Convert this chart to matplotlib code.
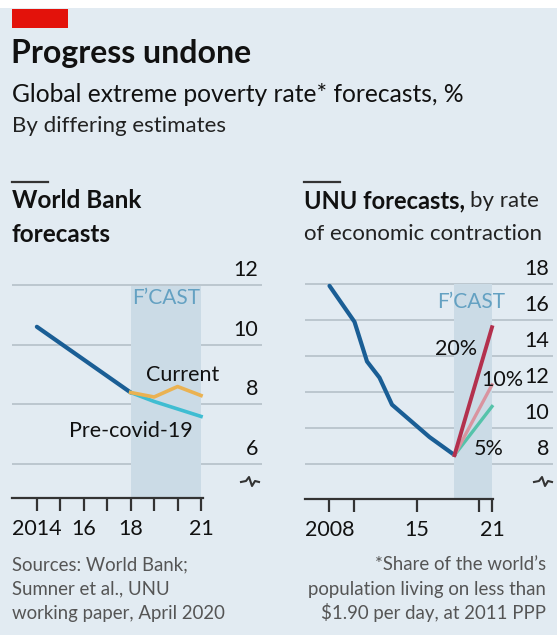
import matplotlib.pyplot as plt
from matplotlib.patches import Rectangle
from matplotlib.lines import Line2D

plt.rcParams['font.family'] = ['Lato', 'DejaVu Sans']

# World Bank panel
wb_years = [2014, 2015, 2016, 2017, 2018]
wb_hist = [10.6, 10.05, 9.5, 8.95, 8.4]
wb_fc_years = [2018, 2019, 2020, 2021]
wb_current = [8.4, 8.25, 8.6, 8.3]
wb_precovid = [8.4, 8.1, 7.85, 7.6]
wb_yticks = [6, 8, 10, 12]
wb_xticks = [2014, 2015, 2016, 2017, 2018, 2019, 2020, 2021]
wb_xlabels = ['2014', '', '16', '', '18', '', '', '21']

# UNU panel
unu_years = [2008, 2009, 2010, 2011, 2012, 2013, 2014, 2015, 2016, 2017, 2018]
unu_hist = [17.9, 16.9, 15.9, 13.7, 12.8, 11.3, 10.7, 10.1, 9.5, 9.0, 8.5]
unu_fc_years = [2018, 2021]
unu_5 = [8.5, 11.2]
unu_10 = [8.5, 12.4]
unu_20 = [8.5, 15.6]
unu_yticks = [8, 10, 12, 14, 16, 18]
unu_xticks = [2008, 2010, 2015, 2020, 2021]
unu_xlabels = ['2008', '', '15', '', '21']

sources = ['Sources: World Bank;', 'Sumner et al., UNU', 'working paper, April 2020']
footnote = ['*Share of the world\u2019s', 'population living on less than', '$1.90 per day, at 2011 PPP']

BG = '#e2ebf2'
GRID = '#b9c4cc'
SHADE = '#cbdbe6'
BLUE = '#1a5e95'

W, H = 557, 635
fig = plt.figure(figsize=(W / 100, H / 100), dpi=100)
fig.patch.set_facecolor('white')


def fx(px):
    return px / W


def fy(py):
    return 1 - py / H


# background panel below the white strip
fig.patches.append(Rectangle((0, 0), 1, fy(8), transform=fig.transFigure,
                             facecolor=BG, edgecolor='none', zorder=-10))
fig.patches.append(Rectangle((fx(12), fy(28)), fx(56), 19 / H, transform=fig.transFigure,
                             facecolor='#e3120b', edgecolor='none'))

fig.text(fx(11), fy(53), 'Progress undone', fontsize=23, fontweight='bold', va='center', color='#111111')
fig.text(fx(12), fy(94), 'Global extreme poverty rate* forecasts, %', fontsize=17.7, va='center', color='#111111')
fig.text(fx(12), fy(126), 'By differing estimates', fontsize=16, va='center', color='#222222')

# panel headers
for x0 in (12, 304):
    fig.lines.append(Line2D([fx(x0), fx(x0 + 36)], [fy(182), fy(182)], transform=fig.transFigure,
                            color='#333333', lw=1.6))
fig.text(fx(12), fy(201), 'World Bank', fontsize=17.5, fontweight='bold', va='center', color='#111111')
fig.text(fx(12), fy(234), 'forecasts', fontsize=17.5, fontweight='bold', va='center', color='#111111')
t = fig.text(fx(304), fy(201), 'UNU forecasts,', fontsize=17, fontweight='bold', va='center', color='#111111')
fig.canvas.draw()
bb = t.get_window_extent()
fig.text(bb.x1 / W + fx(5), fy(201), 'by rate', fontsize=16, va='center', color='#222222')
fig.text(fx(304), fy(234), 'of economic contraction', fontsize=16, va='center', color='#222222')

# footers
for i, (a, b) in enumerate(zip(sources, footnote)):
    yy = fy(565 + 24 * i)
    fig.text(fx(12), yy, a, fontsize=13.4, va='center', ha='left', color='#555555')
    fig.text(fx(546), yy, b, fontsize=13.4, va='center', ha='right', color='#555555')


def setup(ax, xlim, ylim, yticks, xticks, xlabels, fc_start, fc_end, top):
    ax.set_facecolor('none')
    ax.set_xlim(*xlim)
    ax.set_ylim(*ylim)
    for s in ('left', 'right', 'top'):
        ax.spines[s].set_visible(False)
    ax.spines['bottom'].set_bounds(xlim[0], fc_end + 0.08)
    ax.spines['bottom'].set_color('#333333')
    ax.spines['bottom'].set_linewidth(1.6)
    ax.set_yticks([])
    ax.set_xticks(xticks)
    ax.set_xticklabels(xlabels)
    ax.tick_params(axis='x', length=9, width=1.6, color='#333333', labelsize=15.5, pad=6,
                   labelcolor='#111111')
    for v in yticks:
        ax.axhline(v, color=GRID, lw=1.3, zorder=0)
        ax.annotate(str(v), xy=(0.984, v), xycoords=('axes fraction', 'data'),
                    xytext=(0, 5), textcoords='offset pixels', ha='right', va='bottom',
                    fontsize=15.5, color='#111111')
    ax.fill_between([fc_start, fc_end], ylim[0], top, color=SHADE, lw=0, zorder=0.5)


# left axes: px x 12..262, y 270..498
axL = fig.add_axes([fx(12), fy(498), 250 / W, 228 / H])
setup(axL, (2012.94, 2023.6), (4.87, 12.5), wb_yticks, wb_xticks, wb_xlabels, 2018, 2021, 11.98)
axL.plot(wb_years, wb_hist, color=BLUE, lw=3, solid_capstyle='round', zorder=3)
axL.plot(wb_fc_years, wb_precovid, color='#3fbdd2', lw=2.6, zorder=3)
axL.plot(wb_fc_years, wb_current, color='#eab252', lw=2.6, zorder=4)
axL.text(2019.5, 11.55, 'F\u2019CAST', fontsize=15, color='#64a1c2', ha='center', va='center')
axL.text(2020.2, 8.98, 'Current', fontsize=15.5, color='#111111', ha='center', va='center')
axL.text(2018.0, 7.1, 'Pre-covid-19', fontsize=15.5, color='#111111', ha='center', va='center')

# right axes: px x 305..553, y 270..499
axR = fig.add_axes([fx(305), fy(499), 248 / W, 229 / H])
setup(axR, (2006.04, 2025.88), (6.06, 18.78), unu_yticks, unu_xticks, unu_xlabels, 2018, 2021, 17.98)
axR.plot(unu_years, unu_hist, color=BLUE, lw=3, solid_capstyle='round', zorder=3)
axR.plot(unu_fc_years, unu_5, color='#55c3aa', lw=2.4, zorder=3)
axR.plot(unu_fc_years, unu_10, color='#d9939f', lw=2.4, zorder=3)
axR.plot(unu_fc_years, unu_20, color='#b3304d', lw=2.8, zorder=4)
axR.text(2019.3, 17.0, 'F\u2019CAST', fontsize=15, color='#64a1c2', ha='center', va='center')
axR.text(2018.1, 14.4, '20%', fontsize=15.5, color='#111111', ha='center', va='center')
axR.text(2021.85, 12.65, '10%', fontsize=15.5, color='#111111', ha='center', va='center')
axR.text(2020.75, 8.85, '5%', fontsize=15.5, color='#111111', ha='center', va='center')

# axis break squiggles
for cx in (250, 543):
    xs = [cx - 9, cx - 4, cx - 1, cx + 2, cx + 5, cx + 9]
    ys = [482, 481, 477, 486, 481, 482]
    fig.lines.append(Line2D([fx(v) for v in xs], [fy(v) for v in ys], transform=fig.transFigure,
                            color='#333333', lw=1.5))

fig.savefig('out.png', dpi=100, facecolor=fig.get_facecolor())
